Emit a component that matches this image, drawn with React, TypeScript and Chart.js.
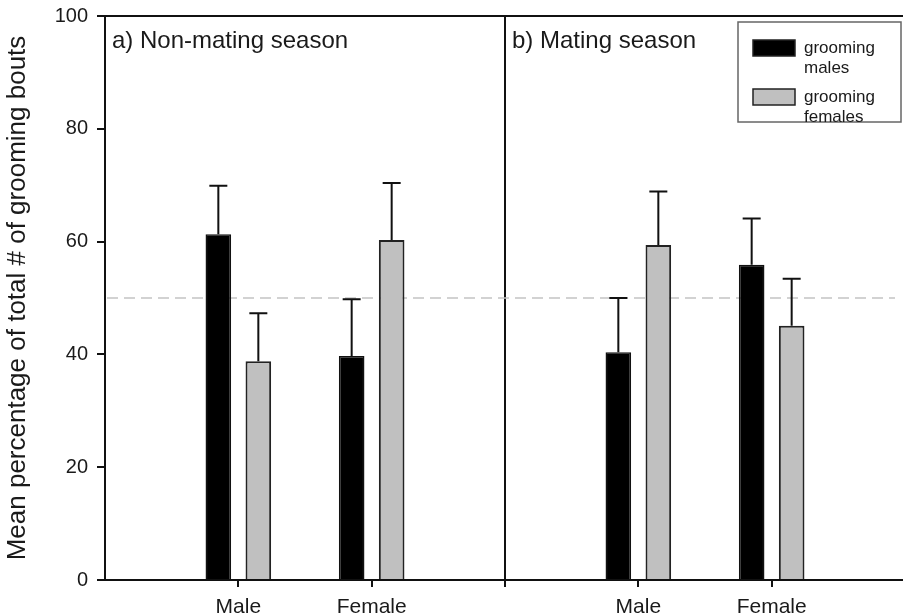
import React, { useEffect, useRef } from "react";
import { Chart, registerables } from "chart.js";

Chart.register(...registerables);

const categories = ["", "Male", "Female", "", "Male", "Female", ""];
const groomingMales = [null, 61.3, 39.7, null, 40.4, 55.9, null];
const groomingMalesErr = [null, 8.6, 10.1, null, 9.6, 8.2, null];
const groomingFemales = [null, 38.8, 60.3, null, 59.4, 45.1, null];
const groomingFemalesErr = [null, 8.5, 10.1, null, 9.5, 8.3, null];
const seriesLabels = [["grooming", "males"], ["grooming", "females"]];
const panelTitles = ["a) Non-mating season", "b) Mating season"];
const panelStarts = [0, 3];
const referenceValue = 50;
const yTitle = "Mean percentage of total # of grooming bouts";

const FONT = "'Liberation Sans', Arial, sans-serif";
const TEXT = "#1a1a1a";

const errors = [groomingMalesErr, groomingFemalesErr];

const customPlugin = {
  id: "custom",
  beforeDatasetsDraw(chart: any) {
    const { ctx, chartArea, scales } = chart;
    const y = scales.y.getPixelForValue(referenceValue);
    ctx.save();
    ctx.strokeStyle = "#c4c4c4";
    ctx.lineWidth = 1.5;
    ctx.setLineDash([11, 6]);
    ctx.beginPath();
    ctx.moveTo(chartArea.left + 2, y);
    ctx.lineTo(chartArea.right - 10, y);
    ctx.stroke();
    ctx.restore();
  },
  afterDatasetsDraw(chart: any) {
    const { ctx, scales } = chart;
    ctx.save();
    ctx.strokeStyle = "#111";
    ctx.lineWidth = 2;
    chart.data.datasets.forEach((ds: any, i: number) => {
      const meta = chart.getDatasetMeta(i);
      meta.data.forEach((el: any, j: number) => {
        const v = ds.data[j];
        const e = errors[i][j];
        if (v == null || e == null) return;
        const x = el.x;
        const y0 = el.y;
        const y1 = scales.y.getPixelForValue(v + e);
        ctx.beginPath();
        ctx.moveTo(x, y0);
        ctx.lineTo(x, y1);
        ctx.moveTo(x - 9, y1);
        ctx.lineTo(x + 9, y1);
        ctx.stroke();
      });
    });
    ctx.restore();
  },
  afterDraw(chart: any) {
    const { ctx, chartArea, scales } = chart;
    ctx.save();
    // top frame line
    ctx.strokeStyle = "#111";
    ctx.lineWidth = 2;
    ctx.beginPath();
    ctx.moveTo(chartArea.left, chartArea.top);
    ctx.lineTo(chartArea.right + 5, chartArea.top);
    ctx.stroke();

    // panel titles
    ctx.fillStyle = TEXT;
    ctx.font = `24px ${FONT}`;
    ctx.textBaseline = "alphabetic";
    ctx.textAlign = "left";
    panelTitles.forEach((t, i) => {
      const x = scales.x.getPixelForValue(panelStarts[i]) + 7;
      ctx.fillText(t, x, chartArea.top + 32);
    });

    // legend
    const bx = chartArea.right - 167;
    const by = chartArea.top + 6;
    const bw = 163;
    const bh = 100;
    ctx.fillStyle = "#fff";
    ctx.fillRect(bx, by, bw, bh);
    ctx.strokeStyle = "#666";
    ctx.lineWidth = 1.5;
    ctx.strokeRect(bx, by, bw, bh);
    const fills = chart.data.datasets.map((d: any) => d.backgroundColor);
    ctx.font = `17px ${FONT}`;
    ctx.textBaseline = "middle";
    seriesLabels.forEach((lines, i) => {
      const sy = by + 18 + i * 49;
      ctx.fillStyle = fills[i];
      ctx.fillRect(bx + 15, sy, 42, 16);
      ctx.strokeStyle = "#222";
      ctx.lineWidth = 1.5;
      ctx.strokeRect(bx + 15, sy, 42, 16);
      ctx.fillStyle = TEXT;
      lines.forEach((l, k) => {
        ctx.fillText(l, bx + 66, sy + 8 + k * 20);
      });
    });
    ctx.restore();
  },
};

export default function App() {
  const ref = useRef<HTMLCanvasElement>(null);
  useEffect(() => {
    if (!ref.current) return;
    const chart = new Chart(ref.current, {
      type: "bar",
      data: {
        labels: categories,
        datasets: [
          {
            label: seriesLabels[0].join(" "),
            data: groomingMales,
            backgroundColor: "#000000",
            borderColor: "#111111",
            borderWidth: 1.5,
            categoryPercentage: 0.6,
            barPercentage: 0.64,
          },
          {
            label: seriesLabels[1].join(" "),
            data: groomingFemales,
            backgroundColor: "#c0c0c0",
            borderColor: "#222222",
            borderWidth: 2,
            categoryPercentage: 0.6,
            barPercentage: 0.64,
          },
        ],
      },
      options: {
        animation: false,
        responsive: false,
        devicePixelRatio: 1,
        layout: { padding: { top: 16, right: 5, left: 0, bottom: 0 } },
        plugins: {
          legend: { display: false },
          tooltip: { enabled: false },
          title: { display: false },
        },
        scales: {
          x: {
            type: "category",
            offset: false,
            border: { display: true, color: "#111", width: 2 },
            grid: {
              display: true,
              offset: false,
              drawOnChartArea: true,
              drawTicks: true,
              tickLength: 7,
              lineWidth: 2,
              color: (c: any) => (c.index === 3 ? "#111" : "rgba(0,0,0,0)"),
              tickColor: (c: any) =>
                c.index === 0 || c.index === 6 ? "rgba(0,0,0,0)" : "#111",
            },
            ticks: {
              autoSkip: false,
              maxRotation: 0,
              font: { family: FONT, size: 21 },
              color: TEXT,
              padding: 8,
            },
            afterFit: (s: any) => {
              s.height = 34;
              s.paddingLeft = 0;
              s.paddingRight = 0;
            },
          },
          y: {
            min: 0,
            max: 100,
            border: { display: true, color: "#111", width: 2 },
            grid: {
              drawOnChartArea: false,
              drawTicks: true,
              tickLength: 8,
              lineWidth: 2,
              color: "#111",
            },
            ticks: {
              stepSize: 20,
              font: { family: FONT, size: 20 },
              color: TEXT,
              padding: 9,
            },
            title: {
              display: true,
              text: yTitle,
              font: { family: FONT, size: 26 },
              color: TEXT,
              padding: { top: 2, bottom: 0 },
            },
            afterFit: (s: any) => {
              s.width = 105;
              s.paddingTop = 0;
              s.paddingBottom = 0;
            },
          },
        },
      },
      plugins: [customPlugin],
    });
    return () => chart.destroy();
  }, []);

  return (
    <div
      style={{
        position: "fixed",
        left: 0,
        top: 0,
        width: 903,
        height: 614,
        overflow: "hidden",
        background: "#fff",
      }}
    >
      <canvas ref={ref} width={910} height={614} style={{ width: 910, height: 614, display: "block" }} />
    </div>
  );
}
